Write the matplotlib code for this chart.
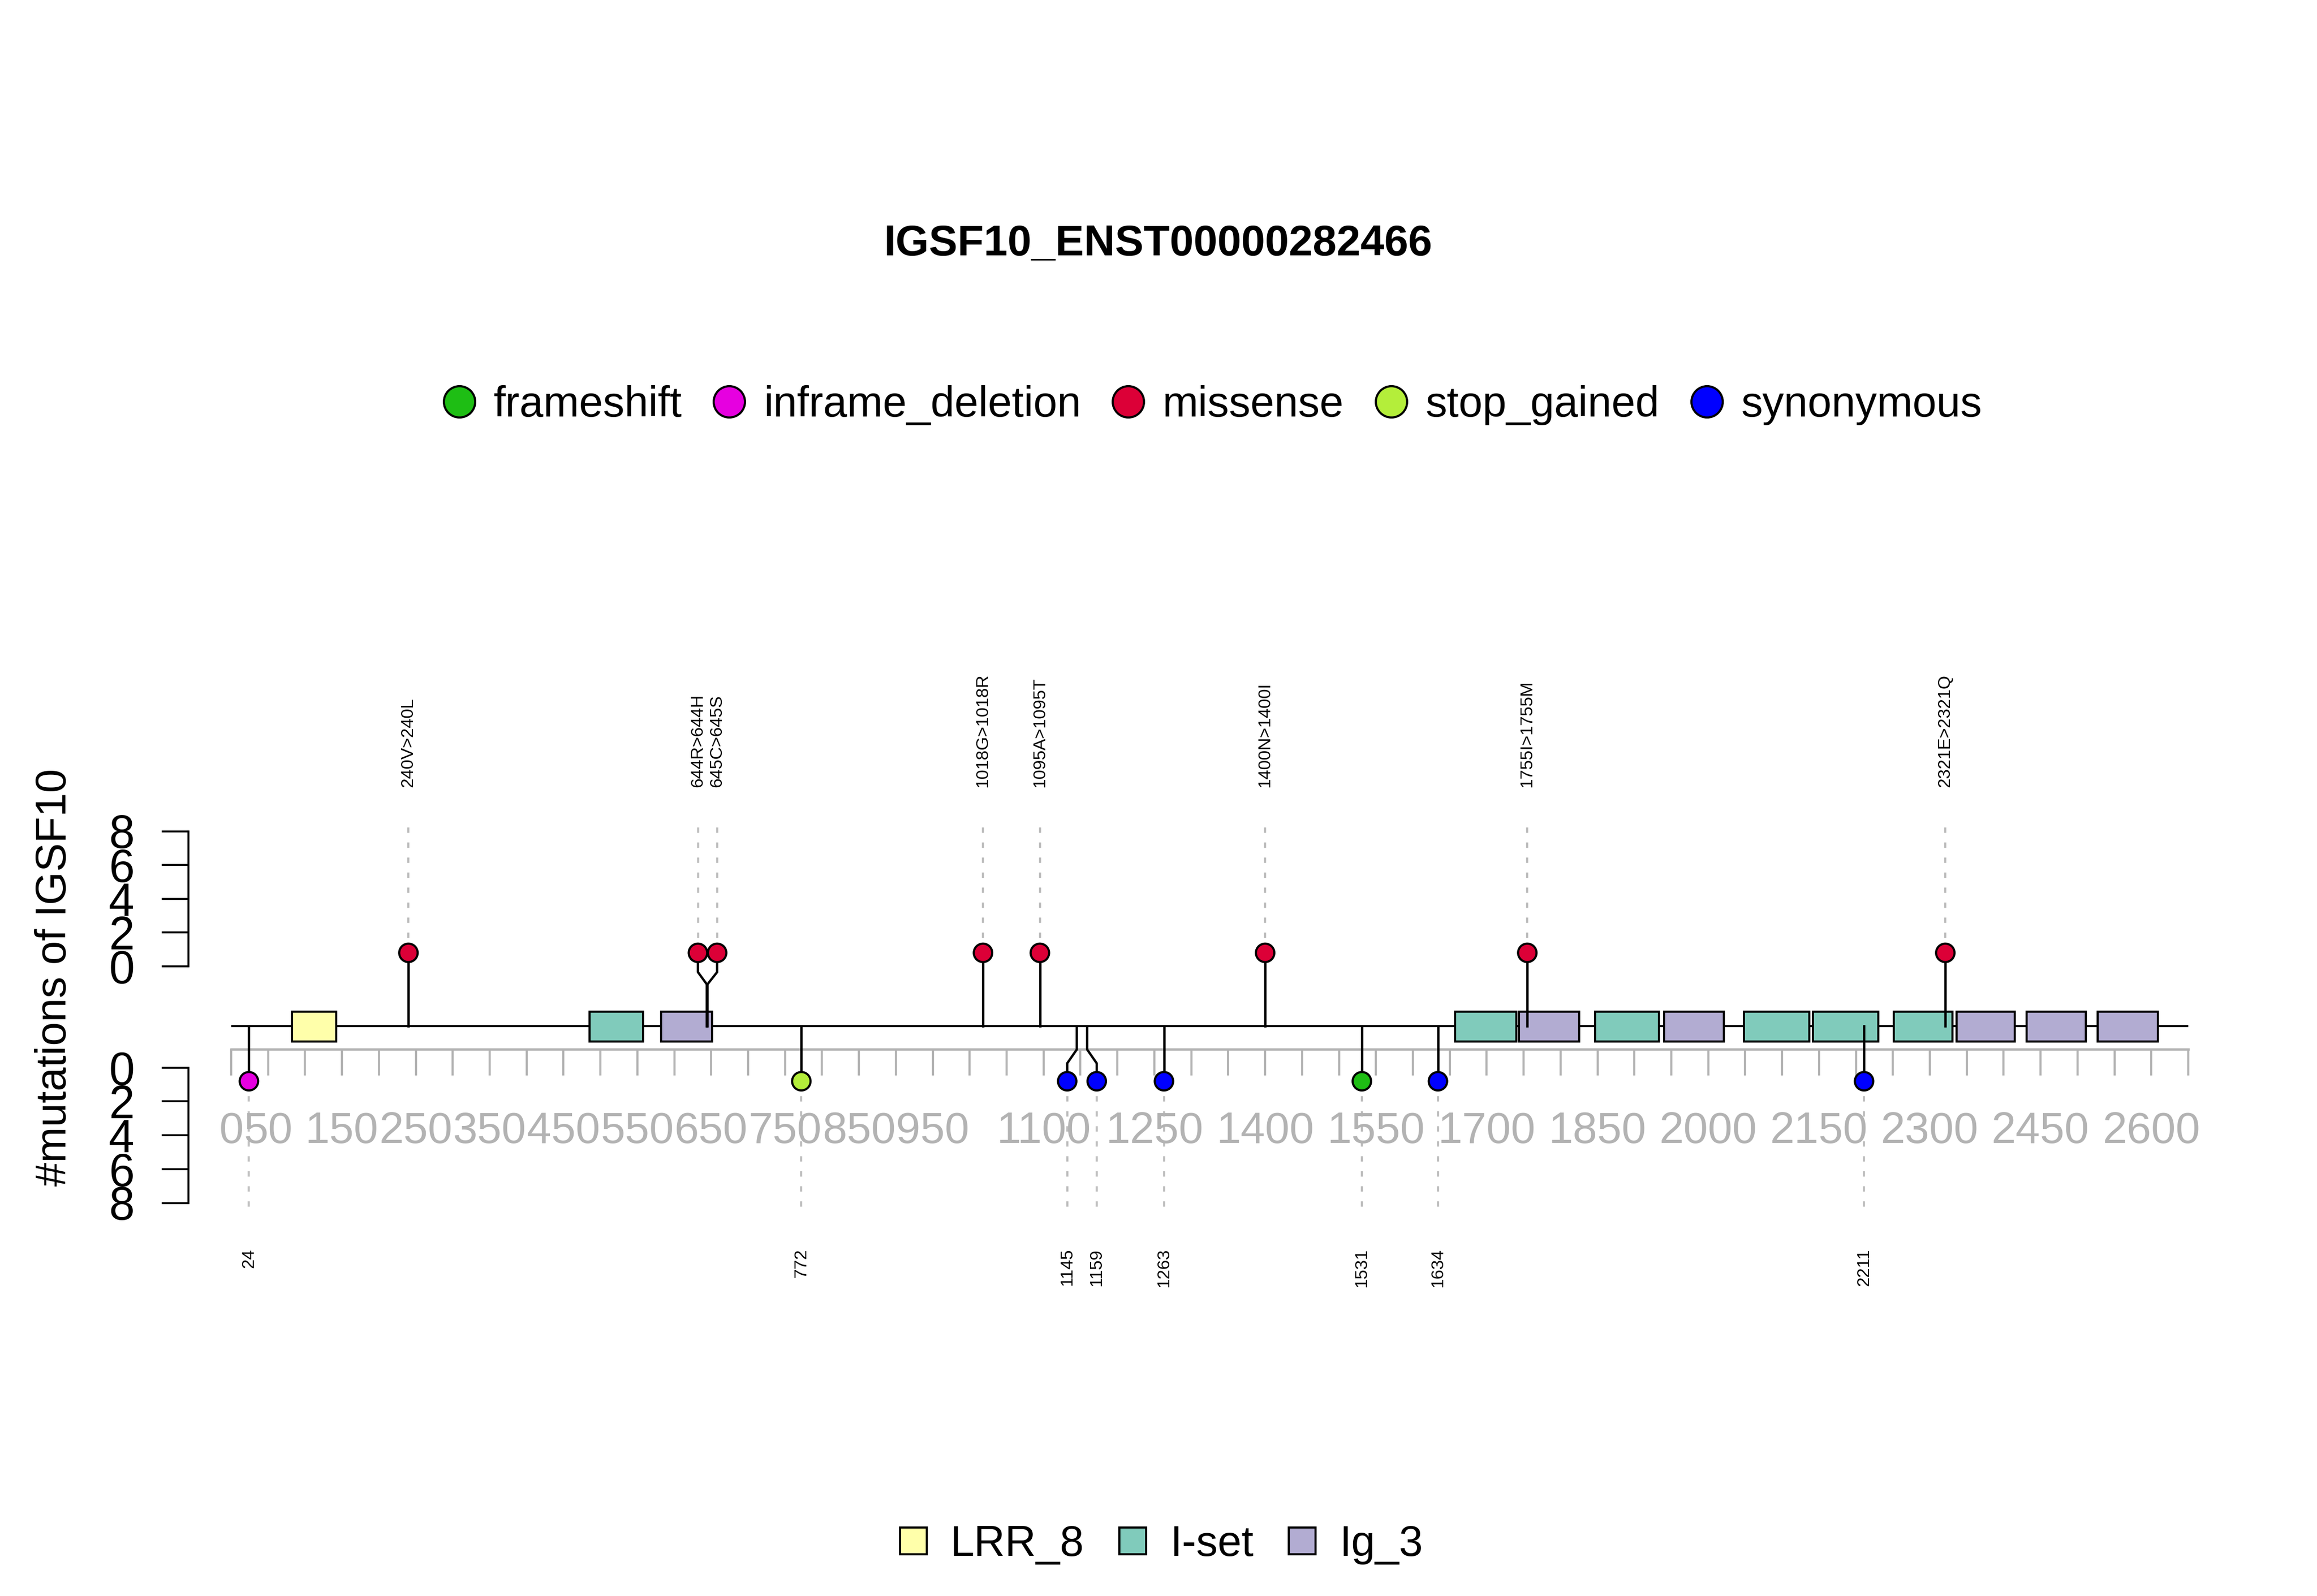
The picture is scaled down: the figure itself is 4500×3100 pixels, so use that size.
import numpy as np
import matplotlib
matplotlib.use('Agg')
import matplotlib.pyplot as plt
from matplotlib.patches import Rectangle
from matplotlib.lines import Line2D

plt.rcParams['font.family'] = ['Liberation Sans', 'DejaVu Sans']

# ---- data ----
title = 'IGSF10_ENST00000282466'
protein_len = 2650

mut_types = ['frameshift', 'inframe_deletion', 'missense', 'stop_gained', 'synonymous']
mut_colors = ['#1EBE14', '#E600E0', '#DC0037', '#B4EE3A', '#0000FF']

# upper track (missense)
up_pos = [240, 644, 645, 1018, 1095, 1400, 1755, 2321]
up_draw_x = [240, 632, 658, 1018, 1095, 1400, 1755, 2321]
up_height = [0.8, 0.8, 0.8, 0.8, 0.8, 0.8, 0.8, 0.8]
up_type = ['missense'] * 8
up_label = ['240V>240L', '644R>644H', '645C>645S', '1018G>1018R',
            '1095A>1095T', '1400N>1400I', '1755I>1755M', '2321E>2321Q']

# lower track
lo_pos = [24, 772, 1145, 1159, 1263, 1531, 1634, 2211]
lo_draw_x = [24, 772, 1132, 1172, 1263, 1531, 1634, 2211]
lo_height = [0.8, 0.8, 0.8, 0.8, 0.8, 0.8, 0.8, 0.8]
lo_type = ['inframe_deletion', 'stop_gained', 'synonymous', 'synonymous',
           'synonymous', 'frameshift', 'synonymous', 'synonymous']
lo_label = ['24', '772', '1145', '1159', '1263', '1531', '1634', '2211']

dom_names = ['LRR_8', 'I-set', 'Ig_3']
dom_colors = ['#FFFFAA', '#80CBBB', '#B2ACD2']
dom_start = [82, 485, 582, 1657, 1744, 1847, 1940, 2048, 2142, 2251, 2336, 2431, 2527]
dom_end = [142, 558, 651, 1740, 1825, 1933, 2021, 2137, 2230, 2331, 2415, 2511, 2609]
dom_kind = ['LRR_8', 'I-set', 'Ig_3', 'I-set', 'Ig_3', 'I-set', 'Ig_3',
            'I-set', 'I-set', 'I-set', 'Ig_3', 'Ig_3', 'Ig_3']

ruler_labeled = [0, 50, 150, 250, 350, 450, 550, 650, 750, 850, 950,
                 1100, 1250, 1400, 1550, 1700, 1850, 2000, 2150, 2300, 2450, 2600]

# ---- layout (pixels of the 4500x3100 canvas) ----
W, H = 4500.0, 3100.0
LOW0 = 6.0          # distance between upper and lower zero lines (axis units)
BB = -3.55          # backbone
BOX_TOP, BOX_BOT = -2.68, -4.44
RULER = -4.91
GREY = '#B3B3B3'
DOT = '#BEBEBE'

fig = plt.figure(figsize=(15, 31 / 3), dpi=300)
col = dict(zip(mut_types, mut_colors))
dcol = dict(zip(dom_names, dom_colors))

ax = fig.add_axes([449 / W, 1 - 2336.4 / H, 3801 / W, (2336.4 - 1614.5) / H])
ax.set_xlim(0, protein_len)
ax.set_ylim(-14, 8)
ax.patch.set_visible(False)
for s in ['top', 'left', 'right']:
    ax.spines[s].set_visible(False)
ax.spines['bottom'].set_position(('data', RULER))
ax.spines['bottom'].set_bounds(0, protein_len)
ax.spines['bottom'].set_color(GREY)
ax.spines['bottom'].set_linewidth(1.1)
ticks = np.arange(0, protein_len + 1, 50)
ax.set_xticks(ticks)
ax.set_xticklabels([str(t) if t in ruler_labeled else '' for t in ticks])
ax.tick_params(axis='x', direction='out', length=12.2, width=1.0, color=GREY,
               labelcolor=GREY, labelsize=20.5, pad=16.5)
ax.set_yticks([])

# backbone + domains
ax.plot([0, protein_len], [BB, BB], color='black', lw=1.0, zorder=1.5)
for s, e, k in zip(dom_start, dom_end, dom_kind):
    ax.add_patch(Rectangle((s, BOX_BOT), e - s, BOX_TOP - BOX_BOT, facecolor=dcol[k],
                           edgecolor='black', lw=1.0, zorder=2))

# upper lollipops
for p, xd, h, t, lab in zip(up_pos, up_draw_x, up_height, up_type, up_label):
    ax.plot([xd, xd], [h, 8.38], color=DOT, lw=1.0, ls=(0, (2.5, 4.5)), zorder=1,
            clip_on=False)
    ax.plot([p, p, xd, xd], [BB, -1.06, -0.34, h], color='black', lw=1.1, zorder=3,
            clip_on=False)
    ax.text(xd, 10.6, lab, rotation=90, ha='center', va='bottom', fontsize=8.1,
            clip_on=False)
ax.scatter(up_draw_x, up_height, s=8.6 ** 2, c=[col[t] for t in up_type],
           edgecolors='black', linewidths=1.0, zorder=4, clip_on=False)

# lower lollipops
lo_y = [-LOW0 - h for h in lo_height]
for p, xd, y, t, lab in zip(lo_pos, lo_draw_x, lo_y, lo_type, lo_label):
    ax.plot([xd, xd], [y, -14.37], color=DOT, lw=1.0, ls=(0, (2.5, 4.5)), zorder=1,
            clip_on=False)
    ax.plot([p, p, xd, xd], [BB, -4.92, -5.74, y], color='black', lw=1.1, zorder=3,
            clip_on=False)
    ax.text(xd, -16.7, lab, rotation=90, ha='center', va='top', fontsize=8.1,
            clip_on=False)
ax.scatter(lo_draw_x, lo_y, s=8.6 ** 2, c=[col[t] for t in lo_type],
           edgecolors='black', linewidths=1.0, zorder=4, clip_on=False)

# y axes
def y_axis(rect, lim):
    a = fig.add_axes(rect)
    a.set_xlim(0, protein_len)
    a.set_ylim(*lim)
    a.patch.set_visible(False)
    for s in ['top', 'bottom', 'right']:
        a.spines[s].set_visible(False)
    a.spines['left'].set_position(('outward', 19.9))
    a.spines['left'].set_linewidth(0.9)
    a.set_xticks([])
    a.set_yticks([0, 2, 4, 6, 8])
    a.tick_params(axis='y', length=12.5, width=0.9, labelsize=21.5, pad=12.7)
    return a

y_axis([449 / W, 1 - 1877 / H, 3801 / W, 262.5 / H], (0, 8))
y_axis([449 / W, 1 - 2336.5 / H, 3801 / W, 262.7 / H], (8, 0))

fig.text(106 / W, 1 - 1898 / H, '#mutations of IGSF10', rotation=90,
         ha='center', va='center', fontsize=20)
fig.text(2249 / W, 1 - 495.6 / H, title, ha='center', va='baseline',
         fontsize=20, fontweight='bold')

h1 = [Line2D([], [], marker='o', ls='', ms=14.6, mfc=c, mec='black', mew=1.0)
      for c in mut_colors]
fig.legend(h1, mut_types, loc='center', bbox_to_anchor=(2354 / W, 1 - 786.7 / H),
           ncol=5, frameon=False, fontsize=20, handlelength=0.8, handletextpad=0.4,
           columnspacing=0.7, borderpad=0, borderaxespad=0)

h2 = [Line2D([], [], marker='s', ls='', ms=12.4, mfc=c, mec='black', mew=1.0)
      for c in dom_colors]
fig.legend(h2, dom_names, loc='center', bbox_to_anchor=(2253.5 / W, 1 - 3000 / H),
           ncol=3, frameon=False, fontsize=20, handlelength=0.72, handletextpad=0.5,
           columnspacing=0.78, borderpad=0, borderaxespad=0)

fig.savefig('out.png', dpi=300)
